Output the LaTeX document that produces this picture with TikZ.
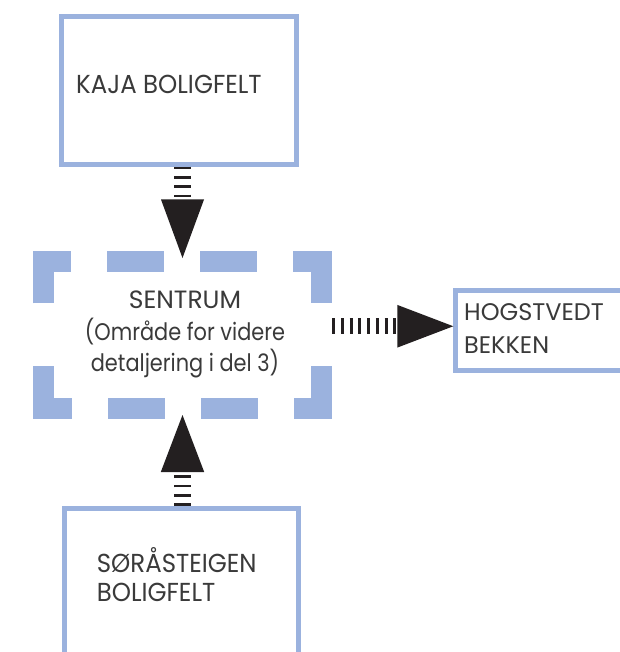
\documentclass[tikz,border=0pt]{standalone}
\usepackage{fontspec}
\setmainfont{Poppins}
\newfontfamily\capsfont{Poppins}[FakeStretch=0.94]
\newfontfamily\narrowfont{Poppins}[FakeStretch=0.87]
\usetikzlibrary{calc}

\definecolor{boxblue}{RGB}{155,178,222}
\definecolor{ink}{RGB}{58,58,58}
\definecolor{arrowink}{RGB}{35,31,32}

\tikzset{
  boxline/.style={draw=boxblue, line width=5pt, inner sep=0pt},
  frameline/.style={draw=boxblue, line width=21pt, line join=miter,
    dash pattern=on 70.2pt off 36pt on 57pt off 36pt on 57pt off 36pt on 70.2pt off 63pt,
    dash phase=393.9pt},
  lbl/.style={text=ink, inner sep=0pt, anchor=base west},
  clbl/.style={text=ink, inner sep=0pt, anchor=base},
  stemV/.style={draw=arrowink, line width=16.7pt, dash pattern=on 2.7pt off 6.6pt},
  stemH/.style={draw=arrowink, line width=15.7pt, dash pattern=on 3pt off 5.7pt},
  head/.style={fill=arrowink},
}

\begin{document}
\begin{tikzpicture}[x=1pt, y=-1pt]
  \useasboundingbox[fill=white] (0,0) rectangle (619,652);

  % boxes
  \node[boxline, minimum width=234.5pt, minimum height=147.5pt] (kaja) at (179,90.45) {};
  \node[boxline, minimum width=234pt, minimum height=171.5pt] (soras) at (181.8,594.25) {};
  \node[boxline, minimum width=184.2pt, minimum height=80pt] (hogst) at (547.9,330.8) {};

  % central area with its broken frame
  \node[inner sep=0pt, outer sep=0pt, minimum width=278.4pt, minimum height=147.1pt] (sentrum) at (182.5,334.75) {};
  \draw[frameline] (sentrum.west) |- (sentrum.north east) |- (sentrum.south west) -- cycle;

  % labels
  \node[lbl, font=\capsfont\fontsize{26}{29}\selectfont] (kajatxt) at (76,93.3) {KAJA BOLIGFELT};
  \node[lbl, font=\capsfont\fontsize{26}{29}\selectfont] (soras1) at (96.7,572) {SØRÅSTEIGEN};
  \node[lbl, font=\capsfont\fontsize{26}{29}\selectfont] (soras2) at (96.7,601) {BOLIGFELT};
  \node[lbl, font=\fontsize{24}{33}\selectfont] (hogst1) at (464,320.5) {HOGSTVEDT};
  \node[lbl, font=\fontsize{24}{33}\selectfont] (hogst2) at (464,353.3) {BEKKEN};
  \node[clbl, font=\fontsize{25}{31.7}\selectfont] (sent1) at (185,308.3) {SENTRUM};
  \node[clbl, font=\narrowfont\fontsize{24}{31.7}\selectfont] (sent2) at (185,340) {(Område for videre};
  \node[clbl, font=\narrowfont\fontsize{24}{31.7}\selectfont] (sent3) at (185,371.7) {detaljering i del 3)};

  % arrow tips
  \coordinate (tipT) at ([yshift=3.2pt]sentrum.north);
  \coordinate (tipB) at ([yshift=-6.7pt]sentrum.south);
  \coordinate (outR) at ([yshift=8.5pt]sentrum.east);
  \coordinate (tipR) at (outR -| hogst.west);

  % KAJA -> SENTRUM
  \draw[stemV] (kaja.south -| sentrum.north) -- ([yshift=58.5pt]tipT);
  \fill[head] (tipT) -- ++(-21.5,-58.5) -- ++(43,0) -- cycle;

  % SØRÅSTEIGEN -> SENTRUM
  \draw[stemV] (soras.north -| sentrum.south) -- ([yshift=-57pt]tipB);
  \fill[head] (tipB) -- ++(-21.7,57) -- ++(43.4,0) -- cycle;

  % SENTRUM -> HOGSTVEDT BEKKEN
  \draw[stemH] ([xshift=10.6pt]outR) -- ([xshift=-56pt]tipR);
  \fill[head] (tipR) -- ++(-56,-21.35) -- ++(0,42.7) -- cycle;
\end{tikzpicture}
\end{document}
